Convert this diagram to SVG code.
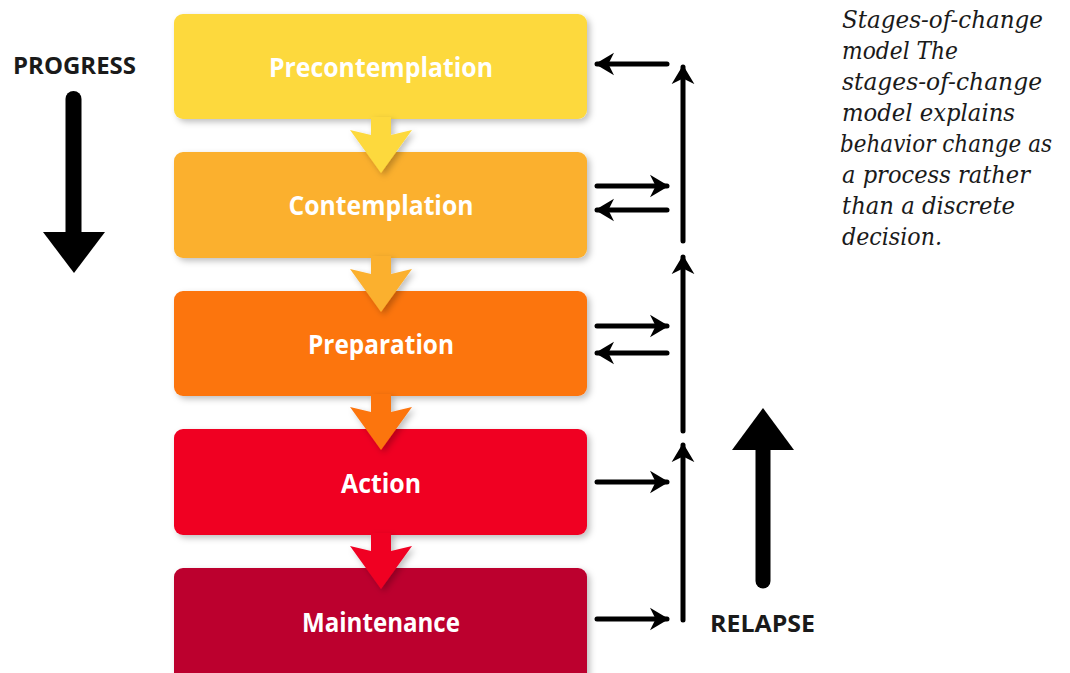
<svg xmlns="http://www.w3.org/2000/svg" width="1070" height="673" viewBox="0 0 1070 673">
<defs>
<filter id="sh" x="-10%" y="-20%" width="130%" height="150%">
<feDropShadow dx="3" dy="3" stdDeviation="3" flood-color="#000" flood-opacity="0.25"/>
</filter>
<marker id="ah" viewBox="0 0 10 12" refX="9" refY="6" markerWidth="3.8" markerHeight="5" markerUnits="strokeWidth" orient="auto">
<path d="M0,0 L10,6 L0,12 L3,6 Z" fill="#000"/>
</marker>
</defs>
<style>
.lbl{font-family:"Open Sans","Noto Sans",sans-serif;font-weight:700;font-size:26px;fill:#fff;text-anchor:middle}
.big{font-family:"Open Sans","Noto Sans",sans-serif;font-weight:700;font-size:23px;fill:#1a1a1a}
.ln{stroke:#000;stroke-width:5;fill:none;stroke-linecap:round}
.cap{font-family:"DejaVu Serif",serif;font-style:italic;font-size:23.5px;fill:#1a1a1a}
</style>
<rect width="1070" height="673" fill="#fff"/>

<g id="precontemplation">
<rect x="174" y="14" width="413" height="105" rx="9" fill="#FDD93D" filter="url(#sh)"/>
<text class="lbl" x="381" y="77" textLength="224" lengthAdjust="spacingAndGlyphs">Precontemplation</text>
</g>
<g id="contemplation">
<rect x="174" y="152" width="413" height="106" rx="9" fill="#FBB02E" filter="url(#sh)"/>
<text class="lbl" x="381" y="215" textLength="185" lengthAdjust="spacingAndGlyphs">Contemplation</text>
</g>
<g id="preparation">
<rect x="174" y="291" width="413" height="105" rx="9" fill="#FC740F" filter="url(#sh)"/>
<text class="lbl" x="381" y="354" textLength="146" lengthAdjust="spacingAndGlyphs">Preparation</text>
</g>
<g id="action">
<rect x="174" y="429" width="413" height="106" rx="9" fill="#F00024" filter="url(#sh)"/>
<text class="lbl" x="381" y="493" textLength="80" lengthAdjust="spacingAndGlyphs">Action</text>
</g>
<g id="maintenance">
<rect x="174" y="568" width="413" height="115" rx="9" fill="#BC002E" filter="url(#sh)"/>
<text class="lbl" x="381" y="632" textLength="158" lengthAdjust="spacingAndGlyphs">Maintenance</text>
</g>

<g id="connectors">
<polygon points="371,117 391,117 391,135 412,130 381,173 350,130 371,135" fill="#FDD93D" filter="url(#sh)"/>
<polygon points="371,256 391,256 391,274 412,269 381,312 350,269 371,274" fill="#FBB02E" filter="url(#sh)"/>
<polygon points="371,394 391,394 391,412 412,407 381,450 350,407 371,412" fill="#FC740F" filter="url(#sh)"/>
<polygon points="371,533 391,533 391,551 412,546 381,589 350,546 371,551" fill="#F00024" filter="url(#sh)"/>

<line class="ln" x1="667" y1="64" x2="597" y2="64" marker-end="url(#ah)"/>
<line class="ln" x1="597" y1="186" x2="667" y2="186" marker-end="url(#ah)"/>
<line class="ln" x1="667" y1="210" x2="597" y2="210" marker-end="url(#ah)"/>
<line class="ln" x1="597" y1="326" x2="667" y2="326" marker-end="url(#ah)"/>
<line class="ln" x1="667" y1="353" x2="597" y2="353" marker-end="url(#ah)"/>
<line class="ln" x1="597" y1="482" x2="667" y2="482" marker-end="url(#ah)"/>
<line class="ln" x1="597" y1="619" x2="667" y2="619" marker-end="url(#ah)"/>

<line class="ln" x1="683" y1="241" x2="683" y2="67" marker-end="url(#ah)"/>
<line class="ln" x1="683" y1="431" x2="683" y2="257" marker-end="url(#ah)"/>
<line class="ln" x1="683" y1="620" x2="683" y2="445" marker-end="url(#ah)"/>
</g>

<g id="progress">
<text class="big" x="13" y="74" textLength="123" lengthAdjust="spacingAndGlyphs">PROGRESS</text>
<line x1="73.5" y1="99" x2="73.5" y2="236" stroke="#000" stroke-width="16" stroke-linecap="round"/>
<polygon points="43,232 105,232 74,273" fill="#000"/>
</g>

<g id="relapse">
<line x1="763" y1="581" x2="763" y2="445" stroke="#000" stroke-width="15" stroke-linecap="round"/>
<polygon points="732,450 794,450 763,408" fill="#000"/>
<text class="big" x="710" y="632" textLength="105" lengthAdjust="spacingAndGlyphs">RELAPSE</text>
</g>

<g id="caption">
<text class="cap" x="842" y="28" textLength="201" lengthAdjust="spacingAndGlyphs">Stages-of-change</text>
<text class="cap" x="842" y="59" textLength="116" lengthAdjust="spacingAndGlyphs">model The</text>
<text class="cap" x="842" y="90" textLength="200" lengthAdjust="spacingAndGlyphs">stages-of-change</text>
<text class="cap" x="842" y="121" textLength="173" lengthAdjust="spacingAndGlyphs">model explains</text>
<text class="cap" x="840" y="152" textLength="212" lengthAdjust="spacingAndGlyphs">behavior change as</text>
<text class="cap" x="842" y="183" textLength="188" lengthAdjust="spacingAndGlyphs">a process rather</text>
<text class="cap" x="842" y="214" textLength="173" lengthAdjust="spacingAndGlyphs">than a discrete</text>
<text class="cap" x="842" y="245" textLength="100" lengthAdjust="spacingAndGlyphs">decision.</text>
</g>
</svg>
